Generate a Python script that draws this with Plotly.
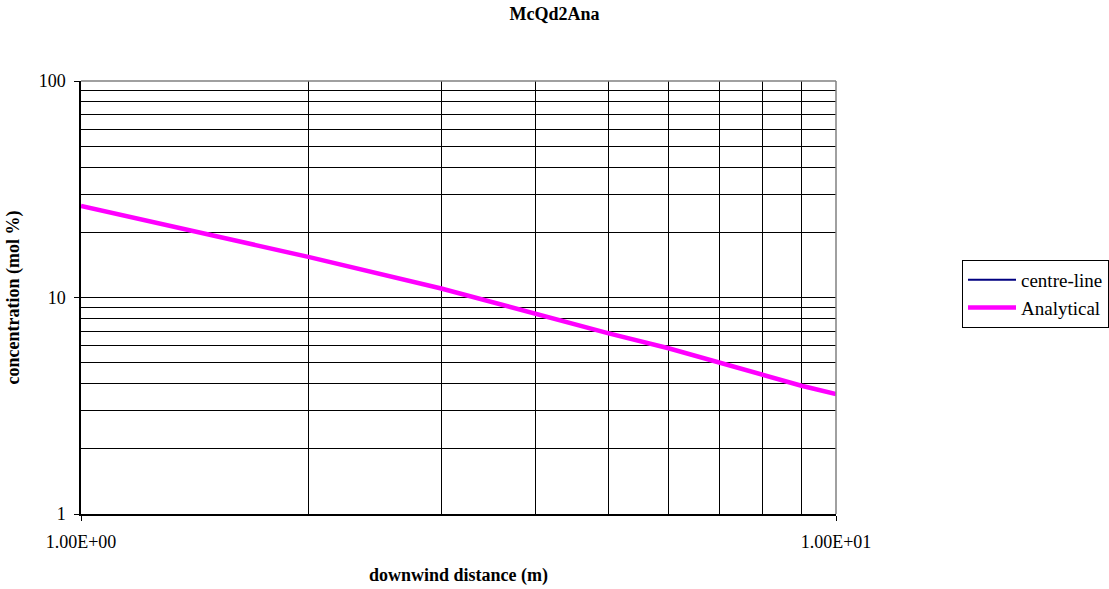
import plotly.graph_objects as go

# Downwind distance (m) and analytical centre-line concentration (mol %)
distance = [1, 2, 3, 4, 5, 6, 7, 8, 9, 10]
analytical = [26.5, 15.4, 11.0, 8.36, 6.83, 5.83, 5.02, 4.42, 3.91, 3.58]

# Measured centre-line series (no points in this run)
centre_x = [None]
centre_y = [None]

x_ticks = [1, 10]
x_tick_text = ["1.00E+00", "1.00E+01"]
y_ticks = [1, 10, 100]
y_tick_text = ["1", "10", "100"]
x_minor = [2, 3, 4, 5, 6, 7, 8, 9]
y_minor = [2, 3, 4, 5, 6, 7, 8, 9, 20, 30, 40, 50, 60, 70, 80, 90]

font_family = "Liberation Serif"
fs = 18

fig = go.Figure()
fig.add_trace(go.Scatter(
    x=centre_x, y=centre_y, name="centre-line", mode="lines",
    line=dict(color="#000080", width=2),
))
fig.add_trace(go.Scatter(
    x=distance, y=analytical, name="Analytical", mode="lines",
    line=dict(color="#FF00FF", width=4.5),
))

axis_common = dict(
    type="log",
    automargin=False,
    showline=True, linecolor="black", linewidth=1.5,
    ticks="outside", ticklen=5, tickcolor="black", tickwidth=1,
    showgrid=True, gridcolor="black", gridwidth=1,
    zeroline=False,
    tickfont=dict(family=font_family, size=fs, color="black"),
)

fig.update_xaxes(
    **axis_common,
    range=[0, 1],
    tickmode="array", tickvals=x_ticks, ticktext=x_tick_text,
    ticklabelstandoff=6,
    minor=dict(tickmode="array", tickvals=x_minor, showgrid=True,
               gridcolor="black", gridwidth=1, ticks=""),
    title=dict(text="<b>downwind distance (m)</b>", standoff=17,
               font=dict(family=font_family, size=fs, color="black")),
)
fig.update_yaxes(
    **axis_common,
    range=[0, 2],
    tickmode="array", tickvals=y_ticks, ticktext=y_tick_text,
    ticklabelstandoff=5,
    minor=dict(tickmode="array", tickvals=y_minor, showgrid=True,
               gridcolor="black", gridwidth=1, ticks=""),
    title=dict(text="<b>concentration (mol %)</b>", standoff=14,
               font=dict(family=font_family, size=fs, color="black")),
)

# Grey frame on the top and right edges of the plot area
fig.add_shape(type="line", xref="paper", yref="paper", x0=0, x1=1, y0=1, y1=1,
              line=dict(color="#808080", width=1.5), layer="above")
fig.add_shape(type="line", xref="paper", yref="paper", x0=1, x1=1, y0=0, y1=1,
              line=dict(color="#808080", width=1.5), layer="above")

fig.update_layout(
    width=1109, height=589,
    margin=dict(l=81, r=273, t=81, b=75, autoexpand=False),
    paper_bgcolor="white", plot_bgcolor="white",
    title=dict(text="<b>McQd2Ana</b>", x=0.5, xanchor="center",
               y=1 - 14 / 589, yanchor="middle",
               font=dict(family=font_family, size=fs, color="black")),
    legend=dict(
        xref="container", yref="container",
        x=962 / 1109, xanchor="left", y=1 - 294 / 589, yanchor="middle",
        bordercolor="black", borderwidth=1, bgcolor="white",
        font=dict(family=font_family, size=19, color="black"),
        tracegroupgap=0, itemwidth=48,
    ),
    showlegend=True,
)

fig.write_html("out.html")
